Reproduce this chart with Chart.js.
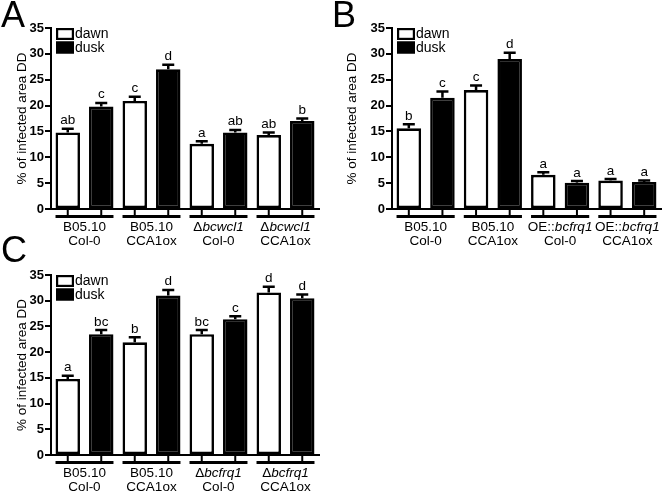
<!DOCTYPE html>
<html>
<head>
<meta charset="utf-8">
<script src="https://cdn.jsdelivr.net/npm/chart.js@4.4.0/dist/chart.umd.min.js"></script>
<style>
  html, body { margin: 0; padding: 0; background: #fff; }
  #wrap { position: relative; width: 663px; height: 494px; background: #fff; overflow: hidden; }
  .panel { position: absolute; }
  .letter { position: absolute; font-family: "Liberation Sans", Arial, sans-serif; font-size: 36px; line-height: 1; color: #000; }
</style>
</head>
<body>
<div id="wrap">
  <div class="panel" style="left:0;top:0;"><canvas id="cA" width="330" height="250"></canvas></div>
  <div class="panel" style="left:330px;top:0;"><canvas id="cB" width="333" height="250"></canvas></div>
  <div class="panel" style="left:0;top:250px;"><canvas id="cC" width="330" height="244"></canvas></div>
  <div class="letter" style="left:1px;top:-3px;">A</div>
  <div class="letter" style="left:332px;top:-3px;">B</div>
  <div class="letter" style="left:1px;top:232px;">C</div>
</div>
<script>
// ---------- data ----------
const seriesNames = ['dawn', 'dusk'];
const yTicks = [0, 5, 10, 15, 20, 25, 30, 35];
const yTitle = '% of infected area DD';

// labels: "|" separates lines, *...* marks italic text
const categoriesA = ['B05.10|Col-0', 'B05.10|CCA1ox', 'Δ*bcwcl1*|Col-0', 'Δ*bcwcl1*|CCA1ox'];
const dawnA = [14.8, 20.9, 12.6, 14.3];
const duskA = [19.8, 27.0, 14.8, 17.0];
const dawnErrA = [0.7, 0.8, 0.5, 0.5];
const duskErrA = [0.7, 0.9, 0.5, 0.5];
const dawnLettersA = ['ab', 'c', 'a', 'ab'];
const duskLettersA = ['c', 'd', 'ab', 'b'];

const categoriesB = ['B05.10|Col-0', 'B05.10|CCA1ox', 'OE::*bcfrq1*|Col-0', 'OE::*bcfrq1*|CCA1ox'];
const dawnB = [15.6, 23.0, 6.6, 5.5];
const duskB = [21.5, 29.0, 5.1, 5.2];
const dawnErrB = [0.8, 0.9, 0.5, 0.3];
const duskErrB = [1.2, 1.2, 0.3, 0.3];
const dawnLettersB = ['b', 'c', 'a', 'a'];
const duskLettersB = ['c', 'd', 'a', 'a'];

const categoriesC = ['B05.10|Col-0', 'B05.10|CCA1ox', 'Δ*bcfrq1*|Col-0', 'Δ*bcfrq1*|CCA1ox'];
const dawnC = [14.8, 21.9, 23.5, 31.6];
const duskC = [23.5, 31.0, 26.4, 30.5];
const dawnErrC = [0.6, 1.0, 0.8, 1.1];
const duskErrC = [0.8, 1.1, 0.6, 0.7];
const dawnLettersC = ['a', 'b', 'bc', 'd'];
const duskLettersC = ['bc', 'd', 'c', 'd'];

// ---------- drawing ----------
const FONT = '"Liberation Sans", Arial, Helvetica, sans-serif';

function drawRich(ctx, line, cx, cy, size) {
  const parts = line.split('*');
  const segs = parts.map((t, i) => ({ t, it: i % 2 === 1 })).filter(s => s.t.length);
  let total = 0;
  segs.forEach(s => {
    ctx.font = (s.it ? 'italic ' : '') + size + 'px ' + FONT;
    s.w = ctx.measureText(s.t).width;
    total += s.w;
  });
  let x = cx - total / 2;
  ctx.textAlign = 'left';
  ctx.textBaseline = 'middle';
  segs.forEach(s => {
    ctx.font = (s.it ? 'italic ' : '') + size + 'px ' + FONT;
    ctx.fillText(s.t, x, cy);
    x += s.w;
  });
}

const decorPlugin = {
  id: 'decor',
  afterDatasetsDraw(chart) {
    const ctx = chart.ctx;
    const y = chart.scales.y;
    const xs = chart.scales.x;
    const area = chart.chartArea;
    ctx.save();
    ctx.strokeStyle = '#000';
    ctx.fillStyle = '#000';
    chart.data.datasets.forEach((ds, di) => {
      const meta = chart.getDatasetMeta(di);
      meta.data.forEach((bar, i) => {
        const v = ds.data[i];
        const e = ds.errors[i];
        const yTop = y.getPixelForValue(v);
        const yErr = y.getPixelForValue(v + e);
        ctx.lineWidth = 2.5;
        ctx.beginPath();
        ctx.moveTo(bar.x, yTop);
        ctx.lineTo(bar.x, yErr);
        ctx.moveTo(bar.x - 6, yErr);
        ctx.lineTo(bar.x + 6, yErr);
        ctx.stroke();
        ctx.font = '13.5px ' + FONT;
        ctx.textAlign = 'center';
        ctx.textBaseline = 'alphabetic';
        ctx.fillText(ds.letters[i], bar.x, yErr - 4.5);
        ctx.lineWidth = 2;
        ctx.beginPath();
        ctx.moveTo(bar.x, area.bottom);
        ctx.lineTo(bar.x, area.bottom + 6);
        ctx.stroke();
      });
    });
    const m0 = chart.getDatasetMeta(0), m1 = chart.getDatasetMeta(1);
    chart.data.labels.forEach((lab, i) => {
      const b0 = m0.data[i], b1 = m1.data[i];
      const x0 = b0.x - b0.width / 2, x1 = b1.x + b1.width / 2;
      ctx.lineWidth = 3.2;
      ctx.beginPath();
      ctx.moveTo(x0, area.bottom + 7.5);
      ctx.lineTo(x1, area.bottom + 7.5);
      ctx.stroke();
      const cx = xs.getPixelForValue(i);
      const lines = lab.split('|');
      ctx.fillStyle = '#000';
      drawRich(ctx, lines[0], cx, area.bottom + 18, 13.5);
      drawRich(ctx, lines[1], cx, area.bottom + 32.5, 13.5);
    });
    const lx = area.left + 5, ly = area.top;
    chart.data.datasets.forEach((ds, di) => {
      const by = ly + di * 13.5;
      ctx.fillStyle = ds.backgroundColor;
      ctx.fillRect(lx, by, 18, 12);
      ctx.lineWidth = 2.2;
      ctx.strokeStyle = '#000';
      ctx.strokeRect(lx + 1.1, by + 1.1, 15.8, 9.8);
      ctx.fillStyle = '#000';
      ctx.font = '14px ' + FONT;
      ctx.textAlign = 'left';
      ctx.textBaseline = 'middle';
      ctx.fillText(ds.label, lx + 19, by + 6.5);
    });
    ctx.restore();
  }
};

function makeChart(id, cats, dawn, dusk, dErr, kErr, dLet, kLet, geo) {
  return new Chart(document.getElementById(id), {
    type: 'bar',
    data: {
      labels: cats,
      datasets: [
        { label: seriesNames[0], data: dawn, errors: dErr, letters: dLet,
          backgroundColor: '#ffffff', borderColor: '#000000', borderWidth: 2.6, borderSkipped: false },
        { label: seriesNames[1], data: dusk, errors: kErr, letters: kLet,
          backgroundColor: '#000000', borderColor: '#000000', borderWidth: 2.6, borderSkipped: false }
      ]
    },
    options: {
      responsive: false,
      animation: false,
      devicePixelRatio: 1,
      events: [],
      layout: { padding: { top: geo.top, right: geo.right, left: 0, bottom: 0 } },
      datasets: { bar: { categoryPercentage: 1.0, barPercentage: 0.73 } },
      plugins: { legend: { display: false }, tooltip: { enabled: false } },
      scales: {
        x: {
          grid: { display: false },
          ticks: { display: false },
          border: { display: true, color: '#000', width: 2 },
          afterFit: s => { s.height = geo.xh; }
        },
        y: {
          min: 0, max: 35,
          afterBuildTicks: s => { s.ticks = yTicks.map(v => ({ value: v })); },
          ticks: { color: '#000', padding: 1, font: { family: FONT, size: 13, weight: 'bold' } },
          grid: { display: true, drawOnChartArea: false, drawTicks: true, tickLength: 6, color: '#000', lineWidth: 2 },
          border: { display: true, color: '#000', width: 2 },
          title: { display: true, text: yTitle, color: '#000', padding: { top: 14, bottom: 0 },
                   font: { family: FONT, size: 13.5 } },
          afterFit: s => { s.width = geo.yw; }
        }
      }
    },
    plugins: [decorPlugin]
  });
}

makeChart('cA', categoriesA, dawnA, duskA, dawnErrA, duskErrA, dawnLettersA, duskLettersA,
  { top: 28, right: 11, xh: 41, yw: 51 });
makeChart('cB', categoriesB, dawnB, duskB, dawnErrB, duskErrB, dawnLettersB, duskLettersB,
  { top: 28, right: 2, xh: 41, yw: 62 });
makeChart('cC', categoriesC, dawnC, duskC, dawnErrC, duskErrC, dawnLettersC, duskLettersC,
  { top: 25, right: 11, xh: 39, yw: 51 });
</script>
</body>
</html>
